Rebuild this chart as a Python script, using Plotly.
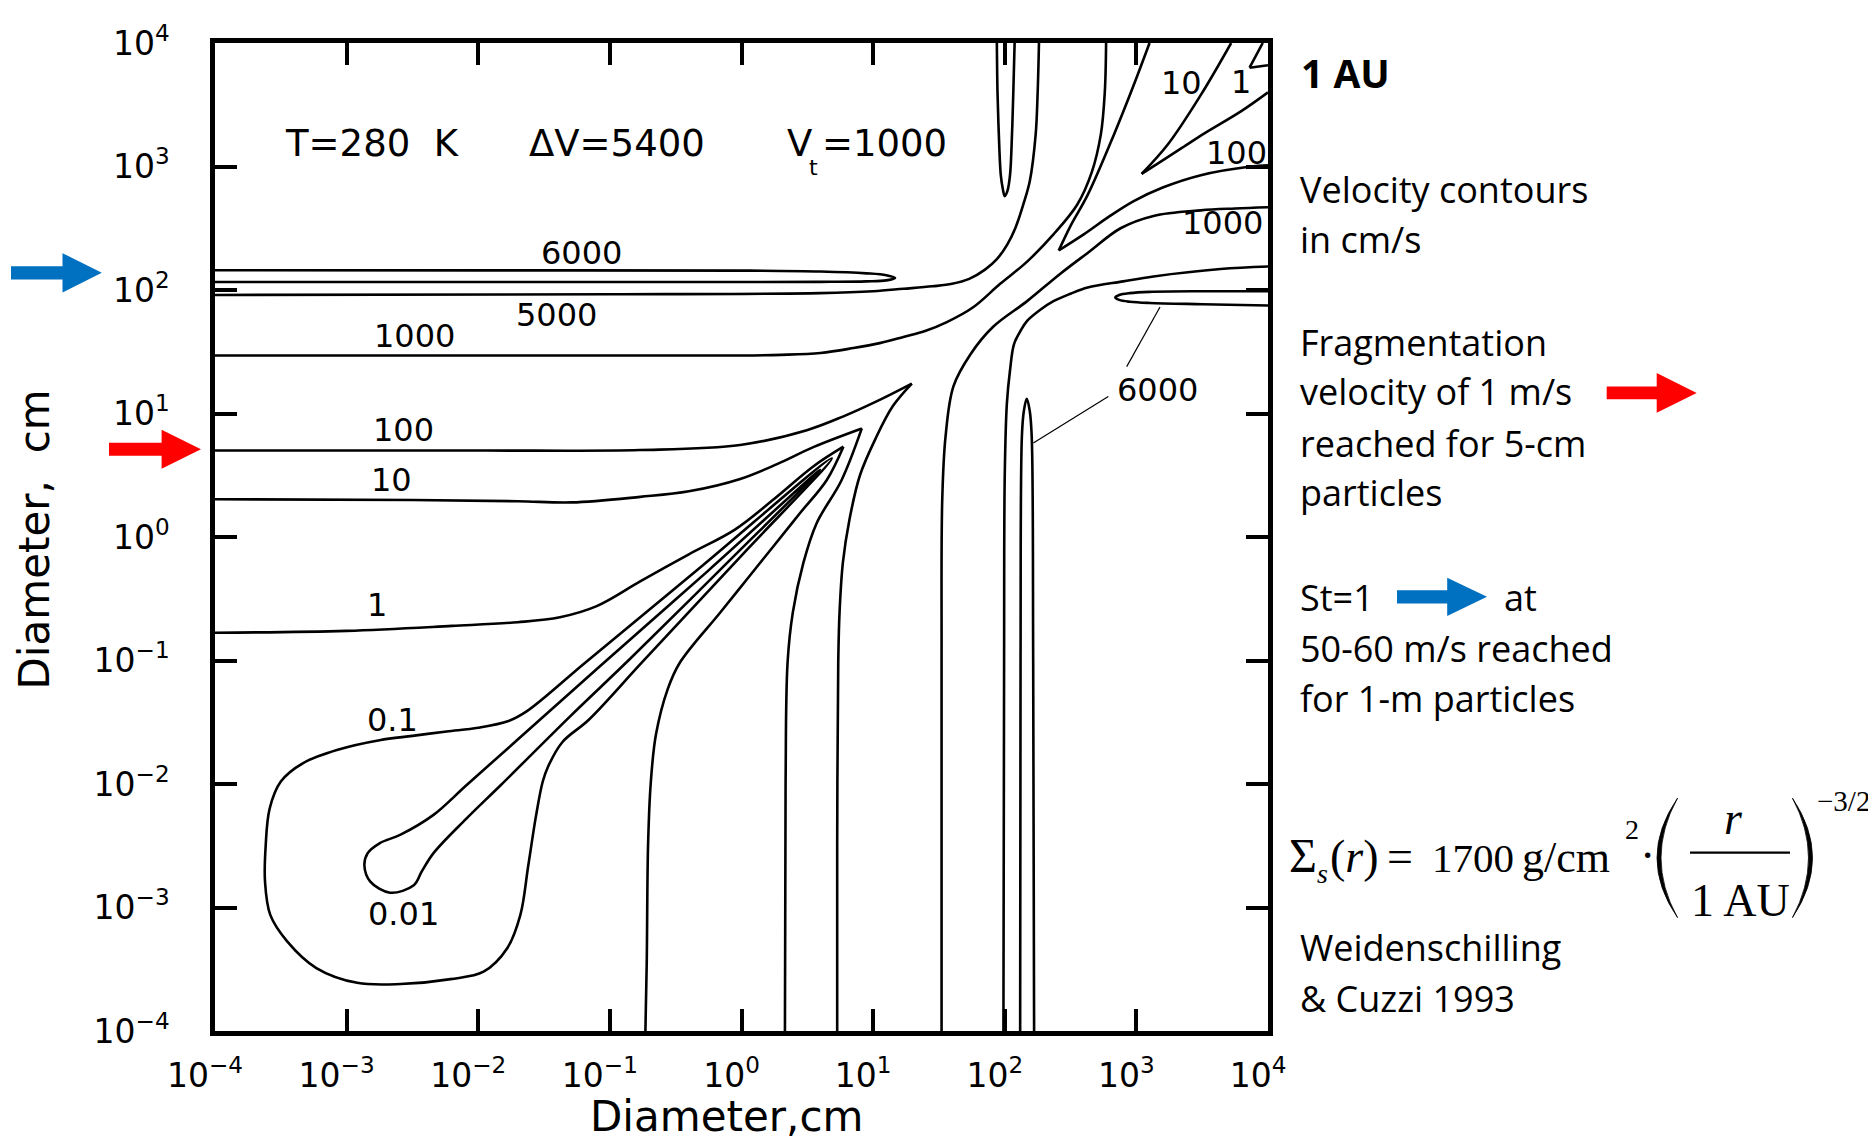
import plotly.graph_objects as go

# ---------------------------------------------------------------------------
# Data: every contour piece as log10(diameter / cm)
# ---------------------------------------------------------------------------
tick_exp = [-4, -3, -2, -1, 0, 1, 2, 3, 4]
tick_labels = ["10<sup>\u22124</sup>", "10<sup>\u22123</sup>", "10<sup>\u22122</sup>",
               "10<sup>\u22121</sup>", "10<sup>0</sup>", "10<sup>1</sup>",
               "10<sup>2</sup>", "10<sup>3</sup>", "10<sup>4</sup>"]

# 0.01 cm/s (closed, tongue + bulb)
c001_lx = [0.597, -0.25, -1.08, -1.70, -2.09, -2.34, -2.59, -2.75, -2.84, -2.865, -2.82, -2.67,
           -2.49, -2.43, -2.34, -2.09, -1.83, -1.30, -0.85, -0.10, 0.597]
c001_ly = [0.543, -0.27, -1.05, -1.64, -2.01, -2.25, -2.41, -2.48, -2.56, -2.66, -2.79, -2.88,
           -2.82, -2.71, -2.56, -2.28, -2.01, -1.45, -0.99, -0.20, 0.543]
# 0.1 cm/s (closed)
c01_lx = [0.686, -0.30, -1.19, -1.63, -1.77, -2.0, -2.24, -2.50, -2.75, -3.06, -3.33, -3.50, -3.585,
          -3.615, -3.62, -3.58, -3.455, -3.23, -2.92, -2.59, -2.21, -1.96, -1.78, -1.68, -1.62,
          -1.56, -1.51, -1.47, -1.36, -1.16, -0.76, 0.0, 0.686]
c01_ly = [0.637, -0.235, -1.02, -1.41, -1.49, -1.545, -1.575, -1.61, -1.645, -1.72, -1.83, -1.98, -2.2,
          -2.5, -2.79, -3.06, -3.27, -3.49, -3.61, -3.62, -3.58, -3.52, -3.33, -3.06, -2.66,
          -2.25, -1.98, -1.86, -1.66, -1.48, -1.02, -0.15, 0.637]
# 1 cm/s
c1_up_lx = [-4.0, -3.0, -2.2, -1.7, -1.38, -1.1, -0.77, -0.40, -0.05, 0.25, 0.55, 0.774]
c1_up_ly = [-0.775, -0.76, -0.72, -0.69, -0.65, -0.56, -0.36, -0.14, 0.06, 0.31, 0.575, 0.731]
c1_lo_lx = [0.774, 0.648, 0.445, 0.243, 0.04, -0.163, -0.47, -0.56, -0.65, -0.69, -0.71, -0.72, -0.73]
c1_lo_ly = [0.731, 0.462, 0.194, -0.075, -0.344, -0.613, -1.02, -1.23, -1.6, -2.0, -2.5, -3.45, -4.0]
c1_cor_a_lx = [3.96, 3.86]
c1_cor_a_ly = [4.0, 3.80]
c1_cor_b_lx = [3.86, 4.0]
c1_cor_b_ly = [3.80, 3.82]
# 10 cm/s
c10_up_lx = [-4.0, -2.5, -1.7, -1.29, -0.77, -0.40, -0.01, 0.27, 0.55, 0.914]
c10_up_ly = [0.306, 0.30, 0.29, 0.28, 0.325, 0.37, 0.47, 0.59, 0.73, 0.879]
c10_lo_lx = [0.914, 0.76, 0.57, 0.47, 0.39, 0.35, 0.335, 0.33]
c10_lo_ly = [0.879, 0.46, 0.11, -0.21, -0.61, -1.016, -2.0, -4.0]
c10_w_a_lx = [3.72, 3.49, 3.24, 3.04]
c10_w_a_ly = [4.0, 3.58, 3.18, 2.94]
c10_w_b_lx = [3.04, 3.20, 3.36, 3.52, 3.80, 4.0]
c10_w_b_ly = [2.94, 3.05, 3.16, 3.27, 3.45, 3.6]
# 100 cm/s
c100_up_lx = [-4.0, -2.0, -0.77, -0.01, 0.496, 0.77, 1.03, 1.294]
c100_up_ly = [0.70, 0.70, 0.704, 0.745, 0.865, 0.975, 1.10, 1.242]
c100_lo_lx = [1.294, 1.15, 1.02, 0.90, 0.82, 0.77, 0.745, 0.735, 0.727, 0.727]
c100_lo_ly = [1.242, 1.06, 0.80, 0.50, 0.14, -0.21, -0.61, -1.016, -2.5, -4.0]
c100_w_a_lx = [3.10, 2.98, 2.83, 2.63, 2.50, 2.41]
c100_w_a_ly = [4.0, 3.66, 3.26, 2.77, 2.52, 2.32]
c100_w_b_lx = [2.41, 2.60, 2.80, 2.98, 3.20, 3.49, 3.87, 4.0]
c100_w_b_ly = [2.32, 2.45, 2.60, 2.72, 2.83, 2.93, 3.0, 3.01]
# 1000 cm/s
c1000_a_lx = [-4.0, -1.0, 0.0, 0.3, 0.6, 0.85, 1.05, 1.23, 1.40, 1.56, 1.76, 1.965, 2.17, 2.37, 2.55,
              2.66, 2.73, 2.76, 2.77]
c1000_a_ly = [1.47, 1.47, 1.47, 1.475, 1.49, 1.53, 1.57, 1.62, 1.67, 1.74, 1.86, 2.05, 2.23, 2.45, 2.69,
              2.95, 3.26, 3.6, 4.0]
c1000_b_lx = [1.52, 1.52, 1.525, 1.55, 1.61, 1.74, 1.91, 2.17, 2.42, 2.63, 2.88, 3.13, 3.49, 3.75, 4.0]
c1000_b_ly = [-4.0, -1.0, 0.3, 0.81, 1.22, 1.48, 1.70, 1.91, 2.13, 2.30, 2.50, 2.60, 2.645, 2.66, 2.67]
# 5000 cm/s
c5000_a_lx = [-4.0, -1.0, 0.6, 1.0, 1.23, 1.45, 1.60, 1.73, 1.85, 1.94, 2.02, 2.08, 2.14, 2.19, 2.235,
              2.25, 2.26]
c5000_a_ly = [1.96, 1.965, 1.975, 1.99, 2.01, 2.03, 2.05, 2.09, 2.165, 2.25, 2.37, 2.50, 2.69, 2.88, 3.26,
              3.6, 4.0]
c5000_b_lx = [1.99, 1.995, 2.0, 2.016, 2.04, 2.07, 2.12, 2.17, 2.27, 2.37, 2.50, 2.63, 2.90, 3.13, 3.64, 4.0]
c5000_b_ly = [-4.0, -1.0, 0.5, 1.08, 1.35, 1.56, 1.67, 1.75, 1.84, 1.91, 1.97, 2.02, 2.07, 2.11, 2.17, 2.19]
# 6000 cm/s (four narrow loops)
c6000_l_lx = [-4.0, -2.0, 0.0, 0.6, 0.95, 1.10, 1.167, 1.10, 0.95, 0.6, 0.0, -2.0, -4.0]
c6000_l_ly = [2.16, 2.159, 2.157, 2.15, 2.135, 2.12, 2.098, 2.078, 2.07, 2.066, 2.065, 2.065, 2.065]
c6000_t_lx = [1.94, 1.945, 1.955, 1.97, 1.985, 2.0, 2.02, 2.04, 2.055, 2.065, 2.075]
c6000_t_ly = [4.0, 3.6, 3.26, 2.93, 2.82, 2.76, 2.80, 2.93, 3.26, 3.6, 4.0]
c6000_b_lx = [2.117, 2.12, 2.13, 2.145, 2.167, 2.19, 2.205, 2.216, 2.223]
c6000_b_ly = [-4.0, -1.0, 0.81, 1.02, 1.12, 1.02, 0.81, -1.0, -4.0]
c6000_r_lx = [4.0, 3.5, 3.1, 2.95, 2.87, 2.84, 2.87, 2.95, 3.1, 3.5, 4.0]
c6000_r_ly = [1.99, 1.99, 1.985, 1.975, 1.96, 1.94, 1.92, 1.905, 1.895, 1.885, 1.875]

contour_pieces = [
    (c001_lx, c001_ly), (c01_lx, c01_ly),
    (c1_up_lx, c1_up_ly), (c1_lo_lx, c1_lo_ly), (c1_cor_a_lx, c1_cor_a_ly), (c1_cor_b_lx, c1_cor_b_ly),
    (c10_up_lx, c10_up_ly), (c10_lo_lx, c10_lo_ly), (c10_w_a_lx, c10_w_a_ly), (c10_w_b_lx, c10_w_b_ly),
    (c100_up_lx, c100_up_ly), (c100_lo_lx, c100_lo_ly), (c100_w_a_lx, c100_w_a_ly), (c100_w_b_lx, c100_w_b_ly),
    (c1000_a_lx, c1000_a_ly), (c1000_b_lx, c1000_b_ly),
    (c5000_a_lx, c5000_a_ly), (c5000_b_lx, c5000_b_ly),
    (c6000_l_lx, c6000_l_ly), (c6000_t_lx, c6000_t_ly), (c6000_b_lx, c6000_b_ly), (c6000_r_lx, c6000_r_ly),
]

# ---------------------------------------------------------------------------
# Layout geometry (pixels of the 1876x1142 page)
# ---------------------------------------------------------------------------
W, H = 1876, 1142
L, R, T, B = 215, 1268, 38, 1031
BODY = 8  # default page margin around the figure div


def px(X):
    return (X - L) / (R - L)


def py(Y):
    return (B - Y) / (B - T)


fig = go.Figure()
for lx, ly in contour_pieces:
    fig.add_trace(go.Scatter(
        x=[10.0 ** v for v in lx], y=[10.0 ** v for v in ly], mode="lines",
        line=dict(color="black", width=2.6, shape="spline", smoothing=1.0),
        hoverinfo="skip", showlegend=False))

SANS = "DejaVu Sans"
OPEN = "Open Sans"
SERIF = "Liberation Serif"


def note(text, X, Y, size, family=SANS, xanchor="center", angle=0, color="black"):
    return dict(text=text, x=px(X), y=py(Y), xref="paper", yref="paper", xanchor=xanchor,
                yanchor="middle", showarrow=False, textangle=angle, borderpad=0,
                font=dict(family=family, size=size, color=color))


ann = []
# contour labels
for txt, X, Y in [("6000", 581.5, 249), ("5000", 556.5, 311.6), ("1000", 414.5, 332),
                  ("100", 403, 427), ("10", 391.3, 477.7), ("1", 377, 603), ("0.1", 392.6, 718.5),
                  ("0.01", 403.8, 913), ("10", 1181, 78.5), ("1", 1241, 77), ("100", 1236, 148.7),
                  ("1000", 1222.8, 219), ("6000", 1157.5, 386.7)]:
    ann.append(note(txt, X, Y, 32))

# parameters line inside the plot
ann.append(note("T=280\u00a0\u00a0K", 284, 139.3, 37, xanchor="left"))
ann.append(note("\u0394V=5400", 528, 139.3, 37, xanchor="left"))
ann.append(note("V", 786, 139.3, 37, xanchor="left"))
ann.append(note("t", 813, 163, 22))
ann.append(note("=1000", 821, 139.3, 37, xanchor="left"))

# axis titles
ann.append(note("Diameter,cm", 726, 1117, 42))
ann.append(note("Diameter,\u00a0\u00a0cm", 34, 537, 42, angle=-90))

# right-hand text panel
ann.append(note("<b>1 AU</b>", 1300, 81.7 - 0.36 * 39, 39, OPEN, xanchor="left"))
for txt, base in [("Velocity contours", 198), ("in cm/s", 248), ("Fragmentation", 351.7),
                  ("velocity of 1 m/s", 401.7), ("reached for 5-cm", 453), ("particles", 503),
                  ("St=1", 608.3), ("50-60 m/s reached", 659.3), ("for 1-m particles", 709.3),
                  ("Weidenschilling", 960), ("&amp; Cuzzi 1993", 1011.7)]:
    ann.append(note(txt, 1299, base - 0.36 * 36, 36, OPEN, xanchor="left"))
ann.append(note("at", 1503, 608.3 - 0.36 * 36, 36, OPEN, xanchor="left"))

# surface density formula
fy = 871 - 0.3375 * 46
ann.append(note("\u03a3", 1303, 871 - 0.3375 * 48, 48, SERIF))
ann.append(note("<i>s</i>", 1322, 873, 28, SERIF))
ann.append(note("(<i>r</i>)", 1354.5, fy, 46, SERIF))
ann.append(note("=", 1400, fy, 46, SERIF))
ann.append(note("1700", 1473, 871 - 0.3375 * 41, 41, SERIF))
ann.append(note("g/cm", 1566, 871 - 0.3375 * 44, 44, SERIF))
ann.append(note("2", 1632, 828, 28, SERIF))
ann.append(note("\u00b7", 1647, fy - 1, 46, SERIF))
ann.append(note("<i>r</i>", 1733, 833 - 0.3375 * 46, 46, SERIF))
ann.append(note("1\u2009AU", 1740, 915 - 0.3375 * 46, 46, SERIF))
ann.append(note("\u22123/2", 1843.5, 800, 29, SERIF))


def poly(points):
    return "M " + " L ".join(f"{px(X):.5f},{py(Y):.5f}" for X, Y in points) + " Z"


def arrow(x0, x1, xt, yc, half_shaft, half_head, color):
    pts = [(x0, yc - half_shaft), (x1, yc - half_shaft), (x1, yc - half_head), (xt, yc),
           (x1, yc + half_head), (x1, yc + half_shaft), (x0, yc + half_shaft)]
    return dict(type="path", xref="paper", yref="paper", path=poly(pts),
                fillcolor=color, line=dict(width=0), layer="above")


BLUE, RED = "#0070C0", "#FF0000"
shapes = [
    arrow(11, 62.5, 101.8, 269.0, 6.6, 19.8, BLUE),
    arrow(109, 161.6, 201, 446.4, 6.5, 19.6, RED),
    arrow(1606.7, 1656.7, 1696.7, 389.7, 6.4, 20.0, RED),
    arrow(1397, 1447.2, 1487, 594.6, 6.7, 19.2, BLUE),
]


def seg(X0, Y0, X1, Y1, w):
    return dict(type="line", xref="paper", yref="paper", x0=px(X0), y0=py(Y0), x1=px(X1), y1=py(Y1),
                line=dict(color="black", width=w), layer="above")


# leader lines of the right "6000" label
shapes.append(seg(1033.3, 440, 1108.3, 393.3, 1.2))
shapes.append(seg(1126.7, 363.3, 1160, 303.3, 1.2))
# fraction bar
shapes.append(seg(1690, 851.7, 1790, 851.7, 2.4))


def paren(xe, xm_out, xm_in, y0, y1):
    ym = (y0 + y1) / 2
    c_out = 2 * xm_out - xe
    c_in = 2 * xm_in - xe
    p = (f"M {px(xe):.5f},{py(y0):.5f} Q {px(c_out):.5f},{py(ym):.5f} {px(xe):.5f},{py(y1):.5f} "
         f"Q {px(c_in):.5f},{py(ym):.5f} {px(xe):.5f},{py(y0):.5f} Z")
    return dict(type="path", xref="paper", yref="paper", path=p, fillcolor="black",
                line=dict(color="black", width=0.8), layer="above")


shapes.append(paren(1677.5, 1657.0, 1661.0, 797, 917))
shapes.append(paren(1792.5, 1812.5, 1808.5, 797, 917))

axis_common = dict(
    type="log", range=[-4, 4], tickvals=[10.0 ** e for e in tick_exp], ticktext=tick_labels,
    showgrid=False, zeroline=False, showline=True, linecolor="black", linewidth=4.5,
    mirror="allticks", ticks="inside", ticklen=22, tickwidth=3.5, tickcolor="black",
    tickfont=dict(family=SANS, size=33, color="black"))

fig.update_xaxes(**axis_common, ticklabelstandoff=12, ticklabelshift=-10)
fig.update_yaxes(**axis_common, ticklabelstandoff=34)

fig.update_layout(
    width=W, height=H, autosize=False,
    margin=dict(l=L - BODY, r=W - R + BODY, t=T - BODY, b=H - B + BODY, pad=0),
    paper_bgcolor="white", plot_bgcolor="white", showlegend=False,
    annotations=ann, shapes=shapes,
    font=dict(family=SANS, color="black"))

fig.write_html("out.html")
